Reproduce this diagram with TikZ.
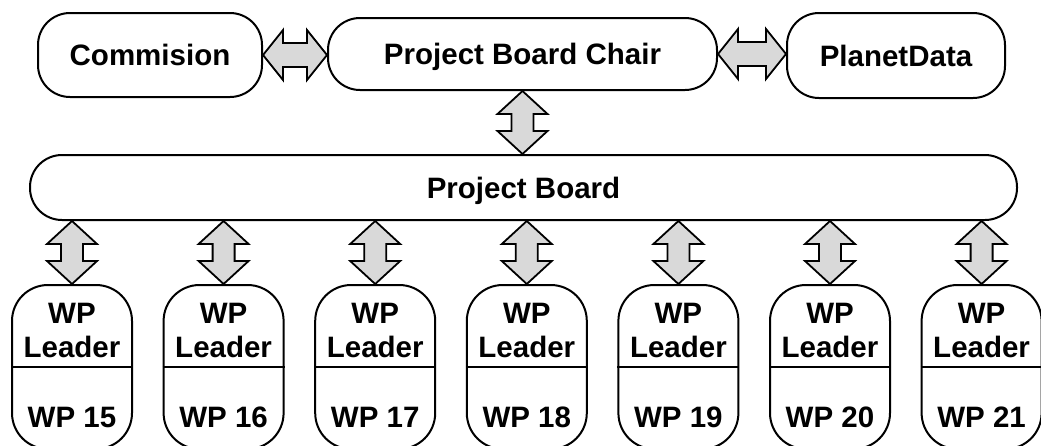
\documentclass[tikz,border=0pt]{standalone}
\usepackage{fontspec}
\setmainfont{Liberation Sans}
\usepackage{tikz}
\usetikzlibrary{calc}
\definecolor{arrowgray}{HTML}{D9D9D9}

% double block arrows between two named points
\newcommand{\varrow}[2]{%
  \draw[blockarrow] let \p1=#1, \p2=#2 in
    (\x1,\y1) -- (\x1+25pt,\y1-23pt) -- (\x1+11pt,\y1-23pt) -- (\x1+11pt,\y2+23pt)
    -- (\x1+25pt,\y2+23pt) -- (\x1,\y2) -- (\x1-25pt,\y2+23pt) -- (\x1-11pt,\y2+23pt)
    -- (\x1-11pt,\y1-23pt) -- (\x1-25pt,\y1-23pt) -- cycle;}
\newcommand{\harrow}[2]{%
  \draw[blockarrow] let \p1=#1, \p2=#2 in
    (\x1,\y1) -- (\x1+20pt,\y1+25pt) -- (\x1+20pt,\y1+12pt) -- (\x2-20pt,\y1+12pt)
    -- (\x2-20pt,\y1+25pt) -- (\x2,\y1) -- (\x2-20pt,\y1-25pt) -- (\x2-20pt,\y1-12pt)
    -- (\x1+20pt,\y1-12pt) -- (\x1+20pt,\y1-25pt) -- cycle;}

\begin{document}
\begin{tikzpicture}[
    x=1pt, y=-1pt,
    every node/.style={font=\fontsize{29.5}{34}\selectfont\bfseries, align=center, inner sep=0pt, text depth=0pt},
    roundbox/.style={draw, line width=2pt, rounded corners=32pt, fill=white},
    wpbox/.style={roundbox, rounded corners=36pt, minimum width=120pt, minimum height=164pt},
    blockarrow/.style={draw, fill=arrowgray, line width=1.8pt}
]
\useasboundingbox (0,0) rectangle (1041,445);

\node[roundbox, minimum width=224pt, minimum height=84pt] (commision) at (150,55) {Commision};
\node[roundbox, minimum width=389pt, minimum height=72pt] (chair) at (522.5,54) {Project Board Chair};
\node[roundbox, minimum width=218pt, minimum height=85pt] (planet) at (896,55.5) {PlanetData};
\node[roundbox, minimum width=987pt, minimum height=65pt] (board) at (523.5,187.5) {Project Board};

\harrow{(commision.east)}{(chair.west |- commision.east)}
\harrow{(chair.east)}{(planet.west |- chair.east)}
\varrow{(chair.south)}{(board.north)}

\foreach \wp [count=\i from 0] in {15,...,21} {
    \node[wpbox] (wp\wp) at (72+151.6*\i,367) {};
    \draw[line width=2pt] (wp\wp.west) -- (wp\wp.east);
    \node (lead\wp) at (72+151.6*\i,330) {WP\\Leader};
    \node (num\wp) at (72+151.6*\i,417) {WP \wp};
    \varrow{(board.south -| wp\wp.north)}{(wp\wp.north)}
}
\end{tikzpicture}
\end{document}
